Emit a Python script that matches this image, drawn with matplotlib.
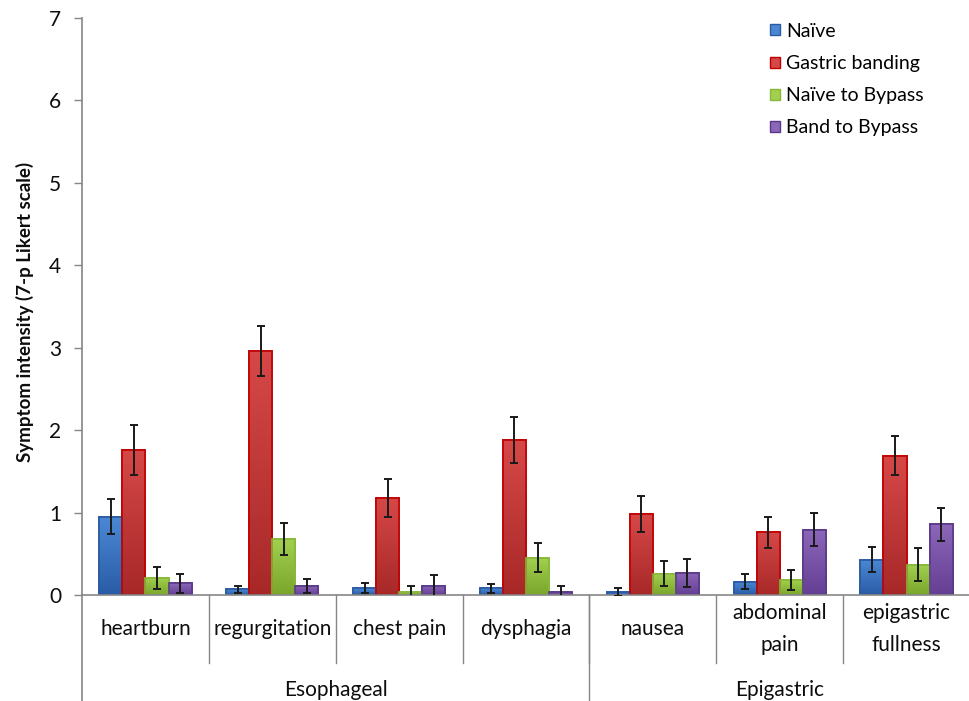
import numpy as np
import matplotlib
matplotlib.use("Agg")
import matplotlib.pyplot as plt
from matplotlib.colors import LinearSegmentedColormap

# ---- data -------------------------------------------------------------
symptoms = ["heartburn", "regurgitation", "chest pain", "dysphagia",
            "nausea", "abdominal\npain", "epigastric\nfullness"]
groups = ["Esophageal", "Epigastric"]
group_sizes = [4, 3]

series = ["Naïve", "Gastric banding", "Naïve to Bypass", "Band to Bypass"]

naive = [0.95, 0.07, 0.08, 0.08, 0.04, 0.16, 0.43]
banding = [1.76, 2.96, 1.18, 1.88, 0.98, 0.76, 1.69]
naive_bypass = [0.21, 0.68, 0.04, 0.45, 0.26, 0.18, 0.37]
band_bypass = [0.14, 0.11, 0.11, 0.04, 0.27, 0.79, 0.86]

naive_err = [0.21, 0.04, 0.06, 0.05, 0.05, 0.09, 0.15]
banding_err = [0.30, 0.30, 0.23, 0.28, 0.22, 0.19, 0.24]
naive_bypass_err = [0.135, 0.19, 0.07, 0.175, 0.155, 0.12, 0.20]
band_bypass_err = [0.11, 0.09, 0.13, 0.07, 0.17, 0.20, 0.20]

values = [naive, banding, naive_bypass, band_bypass]
errors = [naive_err, banding_err, naive_bypass_err, band_bypass_err]

# (top colour, bottom colour, edge colour) per series
palette = [
    ("#4b88d4", "#2a5ca6", "#2a5aa0"),
    ("#d64848", "#a82828", "#c00000"),
    ("#a2d04e", "#7aa62c", "#86b83a"),
    ("#8c66b8", "#653f94", "#5a3888"),
]

plt.rcParams["font.family"] = ["Lato", "DejaVu Sans"]
text_c = "#0d0d0d"
axis_grey = "#868686"

# ---- figure -----------------------------------------------------------
fig = plt.figure(figsize=(9.70, 7.01), dpi=100)
ax = fig.add_axes([82 / 970, 106 / 701, 888 / 970, 577 / 701])

n_cat = len(symptoms)
x = np.arange(n_cat) + 0.5
bar_w = 0.182
offsets = (np.arange(4) - 1.5) * bar_w

for i, (vals, errs) in enumerate(zip(values, errors)):
    top_c, bot_c, edge_c = palette[i]
    bars = ax.bar(x + offsets[i], vals, width=bar_w, color=top_c,
                  edgecolor=edge_c, linewidth=1.2, label=series[i], zorder=2)
    # vertical shading inside each bar: lighter at the top, darker below
    cmap = LinearSegmentedColormap.from_list(f"g{i}", [bot_c, top_c])
    grad = np.linspace(0, 1, 64).reshape(-1, 1)
    for b in bars:
        bx, by, bw, bh = b.get_x(), b.get_y(), b.get_width(), b.get_height()
        im = ax.imshow(grad, cmap=cmap, origin="lower", aspect="auto",
                       extent=[bx, bx + bw, by, by + bh], zorder=2.1)
        im.set_clip_path(b)
        ax.add_patch(plt.Rectangle((bx, by), bw, bh, fill=False,
                                   edgecolor=edge_c, linewidth=1.2, zorder=2.2))
    ax.errorbar(x + offsets[i], vals, yerr=errs, fmt="none", ecolor="#1a1a1a",
                elinewidth=1.4, capsize=2.8, capthick=1.4, zorder=3)

ax.set_xlim(0, n_cat)
ax.set_ylim(0, 7)
ax.set_yticks(range(0, 8))
ax.tick_params(axis="y", length=6, width=1, color=axis_grey, pad=9,
               labelsize=15, labelcolor=text_c)
ax.set_xticks([])

for s in ("top", "right"):
    ax.spines[s].set_visible(False)
for s in ("left", "bottom"):
    ax.spines[s].set_color(axis_grey)
    ax.spines[s].set_linewidth(1.2)

ax.set_ylabel("Symptom intensity (7-p Likert scale)", fontsize=13.5,
              fontweight="bold", color=text_c)
ax.yaxis.set_label_coords(-0.054, 0.49)

# two-level category axis
trans = ax.get_xaxis_transform()
ax.plot([0, 0], [0, -0.184], transform=trans, color=axis_grey, lw=1.2,
        clip_on=False)
for k in range(1, n_cat):
    ax.plot([k, k], [0, -0.118], transform=trans, color=axis_grey, lw=1.0,
            clip_on=False)
for xi, name in zip(x, symptoms):
    ax.text(xi, -0.059, name, transform=trans, ha="center", va="center",
            fontsize=15, color=text_c, linespacing=1.8)

start = 0
for g, size in zip(groups, group_sizes):
    ax.text(start + size / 2, -0.165, g, transform=trans, ha="center",
            va="center", fontsize=15, color=text_c)
    start += size
    if start < n_cat:
        ax.plot([start, start], [0, -0.184], transform=trans, color=axis_grey,
                lw=1.0, clip_on=False)

handles = [plt.Rectangle((0, 0), 1, 1, facecolor=p[0], edgecolor=p[2])
           for p in palette]
ax.legend(handles, series, loc="upper left", bbox_to_anchor=(0.755, 1.022),
          frameon=False, fontsize=14, handlelength=0.5, handleheight=0.5,
          handletextpad=0.35, labelspacing=0.78)

fig.savefig("out.png", dpi=100)
